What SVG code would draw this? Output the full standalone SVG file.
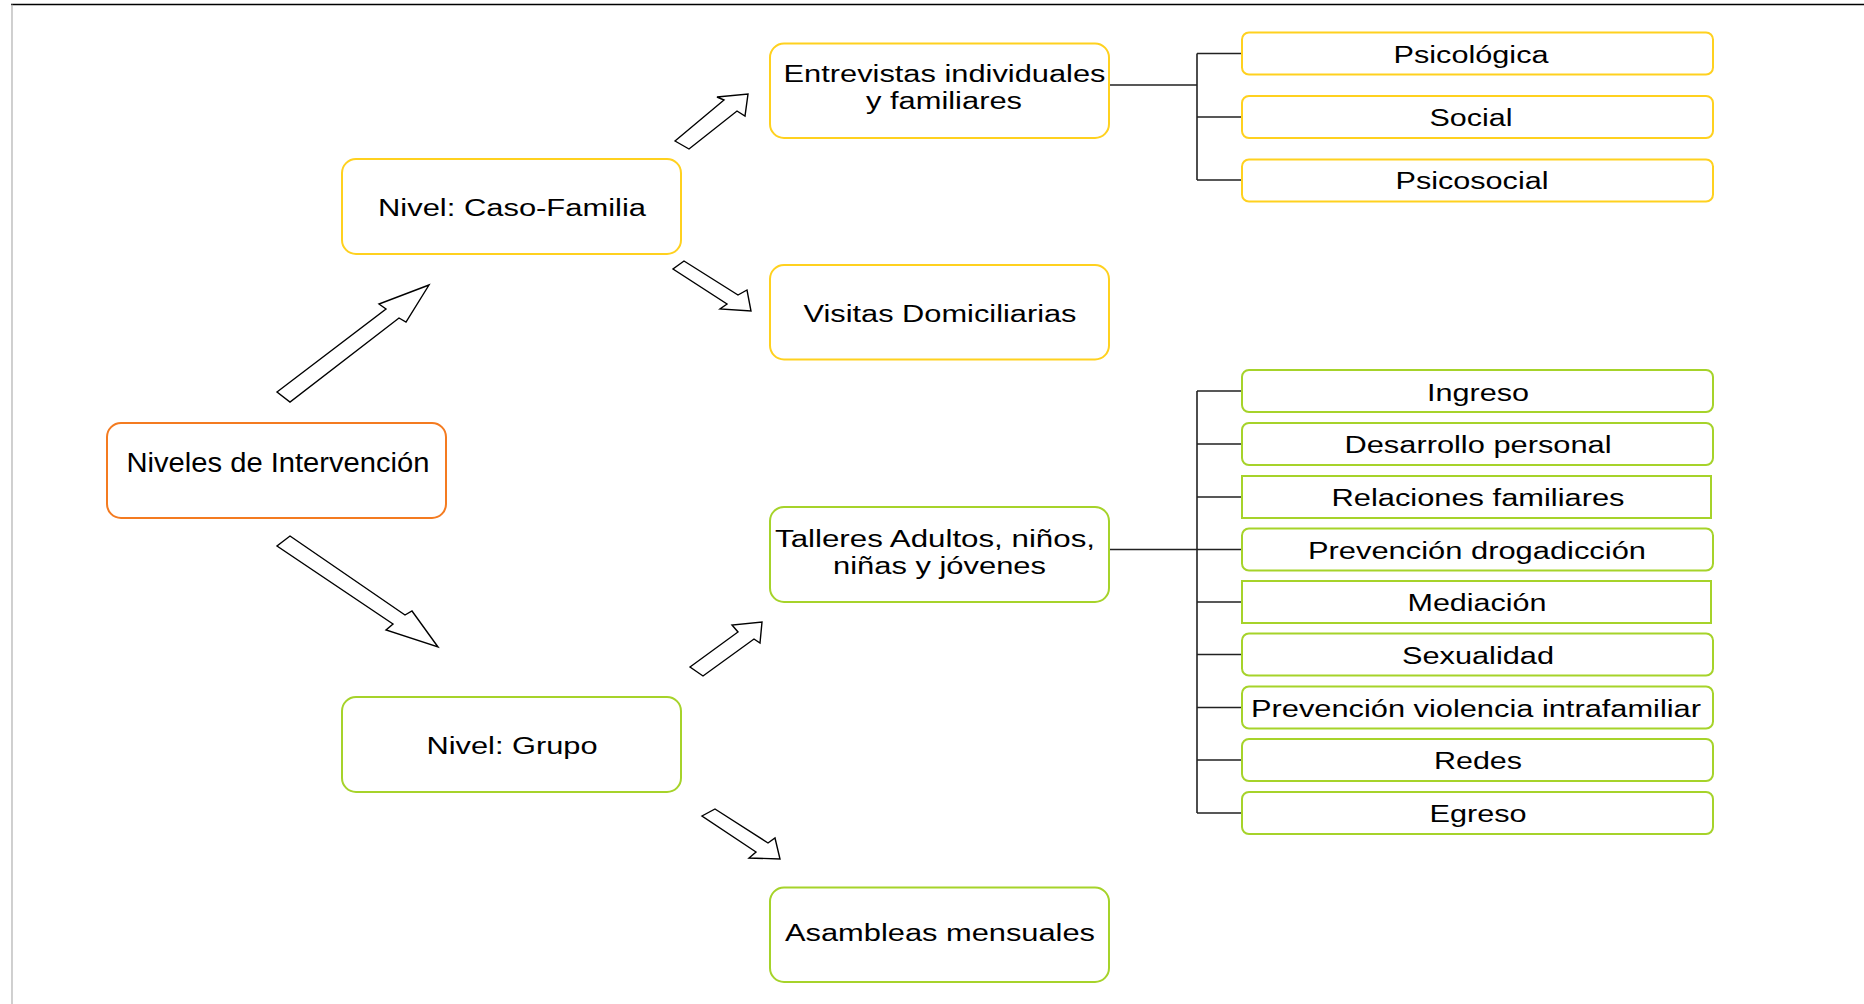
<svg xmlns="http://www.w3.org/2000/svg" width="1864" height="1004" viewBox="0 0 1864 1004">
<style>
  text { font-family: "Liberation Sans", Arial, sans-serif; font-size: 23px; fill: #000; text-anchor: middle; }
  .big { font-size: 27px; }
  .box { fill: #fff; stroke-width: 2; }
  .orange { stroke: #F47B20; }
  .yellow { stroke: #FFD11F; }
  .green { stroke: #A6D32A; }
  .conn { stroke: #222; stroke-width: 1.6; fill: none; }
  .arrow { fill: #fff; stroke: #000; stroke-width: 1.4; stroke-linejoin: miter; }
</style>
<rect x="0" y="0" width="1864" height="1004" fill="#fff"/>
<line x1="11" y1="4.5" x2="1864" y2="4.5" stroke="#000" stroke-width="1.4"/>
<line x1="12" y1="4.5" x2="12" y2="1004" stroke="#b0b0b0" stroke-width="1.2"/>

<g id="connectors">
  <path class="conn" d="M1109 85 H1197 M1197 53.5 V180 M1197 53.5 H1242 M1197 117 H1242 M1197 180 H1242"/>
  <path class="conn" d="M1109 549.5 H1197 M1197 391 V813 M1197 391 H1242 M1197 444 H1242 M1197 497 H1242 M1197 549.5 H1242 M1197 602 H1242 M1197 654.5 H1242 M1197 707.5 H1242 M1197 760 H1242 M1197 813 H1242"/>
  <polygon class="arrow" points="277,392 386,309 379,304 429,285 406,322 399,318 290,402"/>
  <polygon class="arrow" points="290,536 405,615 412,611 438,647 386,630 393,624 277,546"/>
  <polygon class="arrow" points="675,141 724,100 717,97 748,94 745,116 737,111 689,149"/>
  <polygon class="arrow" points="684,261 738,295 747,290 751,311 720,309 727,304 673,269"/>
  <polygon class="arrow" points="690,667 738,632 732,625 762,622 760,643 754,639 703,676"/>
  <polygon class="arrow" points="715,809 768,843 775,838 780,859 749,858 756,852 702,816"/>
</g>

<g id="niveles">
  <rect class="box orange" x="107" y="423" width="339" height="95" rx="14"/>
  <text class="big" x="278" y="472" textLength="303" lengthAdjust="spacingAndGlyphs">Niveles de Intervención</text>
</g>
<g id="caso-familia">
  <rect class="box yellow" x="342" y="159" width="339" height="95" rx="14"/>
  <text x="512" y="216" textLength="268" lengthAdjust="spacingAndGlyphs">Nivel: Caso-Familia</text>
</g>
<g id="grupo">
  <rect class="box green" x="342" y="697" width="339" height="95" rx="14"/>
  <text x="512" y="754" textLength="171" lengthAdjust="spacingAndGlyphs">Nivel: Grupo</text>
</g>
<g id="entrevistas">
  <rect class="box yellow" x="770" y="43.5" width="339" height="94.5" rx="14"/>
  <text x="944.5" y="81.5" textLength="322" lengthAdjust="spacingAndGlyphs">Entrevistas individuales</text>
  <text x="944" y="109" textLength="156" lengthAdjust="spacingAndGlyphs">y familiares</text>
</g>
<g id="visitas">
  <rect class="box yellow" x="770" y="265" width="339" height="94.5" rx="14"/>
  <text x="940" y="321.5" textLength="273" lengthAdjust="spacingAndGlyphs">Visitas Domiciliarias</text>
</g>
<g id="talleres">
  <rect class="box green" x="770" y="507" width="339" height="95" rx="14"/>
  <text x="935" y="546.5" textLength="320" lengthAdjust="spacingAndGlyphs">Talleres Adultos, niños,</text>
  <text x="939.5" y="573.5" textLength="213" lengthAdjust="spacingAndGlyphs">niñas y jóvenes</text>
</g>
<g id="asambleas">
  <rect class="box green" x="770" y="887.5" width="339" height="94.5" rx="14"/>
  <text x="940" y="940.5" textLength="310" lengthAdjust="spacingAndGlyphs">Asambleas mensuales</text>
</g>

<g id="psicologica">
  <rect class="box yellow" x="1242" y="32.5" width="471" height="42" rx="7"/>
  <text x="1471" y="62.5" textLength="155" lengthAdjust="spacingAndGlyphs">Psicológica</text>
</g>
<g id="social">
  <rect class="box yellow" x="1242" y="96" width="471" height="42" rx="7"/>
  <text x="1471" y="125.5" textLength="83" lengthAdjust="spacingAndGlyphs">Social</text>
</g>
<g id="psicosocial">
  <rect class="box yellow" x="1242" y="159.5" width="471" height="42" rx="7"/>
  <text x="1472" y="188.5" textLength="153" lengthAdjust="spacingAndGlyphs">Psicosocial</text>
</g>

<g id="ingreso">
  <rect class="box green" x="1242" y="370" width="471" height="42" rx="7"/>
  <text x="1478" y="400.5" textLength="102" lengthAdjust="spacingAndGlyphs">Ingreso</text>
</g>
<g id="desarrollo">
  <rect class="box green" x="1242" y="423" width="471" height="42" rx="7"/>
  <text x="1478" y="453" textLength="267" lengthAdjust="spacingAndGlyphs">Desarrollo personal</text>
</g>
<g id="relaciones">
  <rect class="box green" x="1242" y="476" width="469" height="42"/>
  <text x="1478" y="506" textLength="293" lengthAdjust="spacingAndGlyphs">Relaciones familiares</text>
</g>
<g id="drogadiccion">
  <rect class="box green" x="1242" y="528.5" width="471" height="42" rx="7"/>
  <text x="1477" y="558.5" textLength="338" lengthAdjust="spacingAndGlyphs">Prevención drogadicción</text>
</g>
<g id="mediacion">
  <rect class="box green" x="1242" y="581" width="469" height="42"/>
  <text x="1477" y="611" textLength="139" lengthAdjust="spacingAndGlyphs">Mediación</text>
</g>
<g id="sexualidad">
  <rect class="box green" x="1242" y="633.5" width="471" height="42" rx="7"/>
  <text x="1478" y="663.5" textLength="152" lengthAdjust="spacingAndGlyphs">Sexualidad</text>
</g>
<g id="violencia">
  <rect class="box green" x="1242" y="686.5" width="471" height="42" rx="7"/>
  <text x="1476" y="716.5" textLength="450" lengthAdjust="spacingAndGlyphs">Prevención violencia intrafamiliar</text>
</g>
<g id="redes">
  <rect class="box green" x="1242" y="739" width="471" height="42" rx="7"/>
  <text x="1478" y="769" textLength="88" lengthAdjust="spacingAndGlyphs">Redes</text>
</g>
<g id="egreso">
  <rect class="box green" x="1242" y="792" width="471" height="42" rx="7"/>
  <text x="1478" y="822" textLength="97" lengthAdjust="spacingAndGlyphs">Egreso</text>
</g>
</svg>
